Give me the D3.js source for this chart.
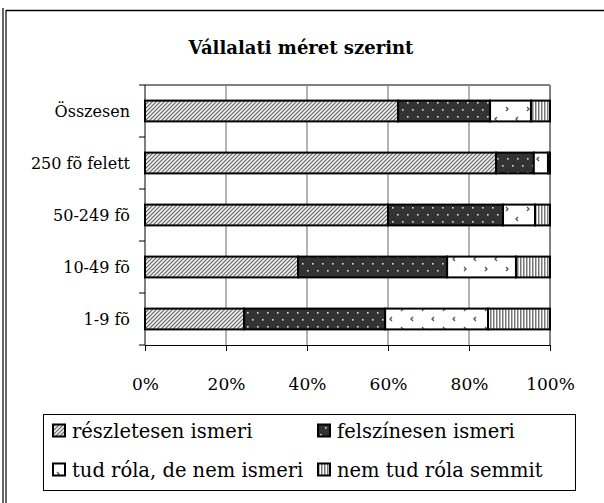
<!DOCTYPE html>
<html>
<head>
<meta charset="utf-8">
<script src="https://cdn.jsdelivr.net/npm/d3@7"></script>
<style>
  body { margin: 0; background: #fff; }
</style>
</head>
<body>
<div id="chart"></div>
<script>
var categories = ["Összesen", "250 fõ felett", "50-249 fõ", "10-49 fõ", "1-9 fõ"];
var seriesNames = ["részletesen ismeri", "felszínesen ismeri", "tud róla, de nem ismeri", "nem tud róla semmit"];
var reszletesen = [62.5, 86.7, 60.0, 37.8, 24.5];
var felszinesen = [22.7, 9.3, 28.4, 36.8, 34.8];
var tudRola = [10.1, 3.5, 7.9, 17.0, 25.4];
var nemTud = [4.7, 0.5, 3.7, 8.4, 15.3];
var xTicks = [0, 20, 40, 60, 80, 100];

var W = 604, H = 503;
var FONT = 'DejaVu Serif';
var margin = { top: 85, right: 54, bottom: 158, left: 145 },
  width = W - margin.left - margin.right,
  height = H - margin.top - margin.bottom;

var svg = d3.select("#chart").append("svg")
  .attr("width", W)
  .attr("height", H);

// fill patterns
var defs = svg.append("defs");

var p1 = defs.append("pattern").attr("id", "pat0")
  .attr("patternUnits", "userSpaceOnUse").attr("width", 4).attr("height", 4);
p1.append("rect").attr("width", 4).attr("height", 4).attr("fill", "#eeeeee");
p1.append("path").attr("d", "M-1,1 L1,-1 M0,4 L4,0 M3,5 L5,3")
  .attr("stroke", "#6a6a6a").attr("stroke-width", 1.2);

var p2 = defs.append("pattern").attr("id", "pat1")
  .attr("patternUnits", "userSpaceOnUse").attr("width", 10).attr("height", 14);
p2.append("rect").attr("width", 10).attr("height", 14).attr("fill", "#333");
p2.append("rect").attr("x", 2).attr("y", 3).attr("width", 1.6).attr("height", 1.6).attr("fill", "#ddd");
p2.append("rect").attr("x", 7).attr("y", 10).attr("width", 1.6).attr("height", 1.6).attr("fill", "#ddd");

var p3 = defs.append("pattern").attr("id", "pat2")
  .attr("patternUnits", "userSpaceOnUse").attr("width", 21).attr("height", 20);
p3.append("rect").attr("width", 21).attr("height", 20).attr("fill", "#fff");
p3.append("path").attr("d", "M4,2 L6,4 L4,6 M16,12 L14,14 L16,16")
  .attr("stroke", "#555").attr("stroke-width", 1.3).attr("fill", "none");

var p4 = defs.append("pattern").attr("id", "pat3")
  .attr("patternUnits", "userSpaceOnUse").attr("width", 3).attr("height", 3);
p4.append("rect").attr("width", 3).attr("height", 3).attr("fill", "#fff");
p4.append("rect").attr("width", 1.5).attr("height", 3).attr("fill", "#777");

// outer frame
svg.append("line").attr("x1", 6).attr("x2", W).attr("y1", 10.5).attr("y2", 10.5)
  .attr("stroke", "#000").attr("stroke-width", 1.5);
svg.append("line").attr("x1", 3).attr("x2", 3).attr("y1", 8).attr("y2", H)
  .attr("stroke", "#000").attr("stroke-width", 1.2);
svg.append("line").attr("x1", 6).attr("x2", 6).attr("y1", 10).attr("y2", H)
  .attr("stroke", "#000").attr("stroke-width", 1.2);

svg.append("text")
  .attr("x", 301).attr("y", 54)
  .attr("text-anchor", "middle")
  .attr("font-family", FONT)
  .style("font-size", "18px").style("font-weight", "bold")
  .text("Vállalati méret szerint");

var x = d3.scaleLinear().domain([0, 100]).range([0, width]);
var y = d3.scaleBand().domain(categories).range([0, height])
  .paddingInner(0.6).paddingOuter(0.3);

var g = svg.append("g").attr("transform", `translate(${margin.left},${margin.top})`);

// gridlines
g.selectAll(".grid").data(xTicks.slice(1))
  .enter().append("line")
  .attr("class", "grid")
  .attr("x1", d => x(d)).attr("x2", d => x(d))
  .attr("y1", 0).attr("y2", height)
  .attr("stroke", "#808080").attr("stroke-width", d => d == 100 ? 2 : 1.2);
g.append("line").attr("x1", 0).attr("x2", width).attr("y1", 0).attr("y2", 0)
  .attr("stroke", "#808080").attr("stroke-width", 2);

// stacked bars
var rows = categories.map((c, i) => ({
  cat: c, vals: [reszletesen[i], felszinesen[i], tudRola[i], nemTud[i]]
}));
var stackData = rows.map(r => {
  var acc = 0;
  return r.vals.map((v, k) => { var s = { cat: r.cat, k: k, x0: acc, x1: acc + v }; acc += v; return s; });
});

g.selectAll(".row").data(stackData).enter().append("g").attr("class", "row")
  .selectAll("rect").data(d => d.filter(s => s.x1 - s.x0 > 0)).enter().append("rect")
  .attr("x", d => x(d.x0))
  .attr("y", d => y(d.cat))
  .attr("width", d => x(d.x1) - x(d.x0))
  .attr("height", y.bandwidth())
  .attr("fill", d => `url(#pat${d.k})`)
  .attr("stroke", "#000").attr("stroke-width", 2);

// axes
var yAxis = g.append("g");
yAxis.append("line").attr("x1", 0).attr("x2", 0).attr("y1", 0).attr("y2", height)
  .attr("stroke", "#000");
var bounds = d3.range(categories.length + 1).map(i => i * y.step());
yAxis.selectAll(".ytick").data(bounds).enter().append("line")
  .attr("x1", -6).attr("x2", 0).attr("y1", d => d).attr("y2", d => d)
  .attr("stroke", "#000");
yAxis.selectAll(".ylab").data(categories).enter().append("text")
  .attr("x", -15).attr("y", d => y(d) + y.bandwidth() / 2)
  .attr("dy", "0.35em").attr("text-anchor", "end")
  .attr("font-family", FONT)
  .style("font-size", "16px")
  .text(d => d);

var xAxis = g.append("g").attr("transform", `translate(0,${height})`)
  .call(d3.axisBottom(x).tickValues(xTicks).tickSize(6).tickFormat(d => d + "%"));
xAxis.select(".domain").attr("stroke", "#000");
xAxis.selectAll(".tick line").attr("stroke", "#000");
xAxis.selectAll("text").attr("font-family", FONT).style("font-size", "17px")
  .attr("fill", "#000").attr("y", 45).attr("dy", 0);

// legend
var lg = svg.append("g");
lg.append("rect").attr("x", 43.5).attr("y", 414.5).attr("width", 532).attr("height", 76)
  .attr("fill", "none").attr("stroke", "#000").attr("stroke-width", 1);
var legPos = [[53, 431], [318, 431], [53, 470], [318, 470]];
var li = lg.selectAll(".leg").data(seriesNames).enter().append("g")
  .attr("transform", (d, i) => `translate(${legPos[i][0]},${legPos[i][1]})`);
li.append("rect").attr("x", 0).attr("y", -6.5).attr("width", 12).attr("height", 12)
  .attr("fill", (d, i) => `url(#pat${i})`).attr("stroke", "#000").attr("stroke-width", 2);
li.append("text").attr("x", 19).attr("y", 0).attr("dy", "0.35em")
  .attr("font-family", FONT)
  .style("font-size", "19.5px").text(d => d);
</script>
</body>
</html>
